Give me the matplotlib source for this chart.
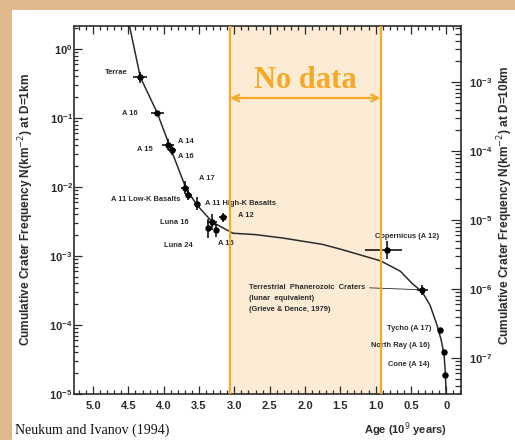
import matplotlib.pyplot as plt
import numpy as np
from matplotlib.patches import Rectangle
from matplotlib.ticker import LogLocator, MultipleLocator, NullFormatter, FixedLocator, FixedFormatter

plt.rcParams['font.family'] = ['Liberation Sans', 'DejaVu Sans']

# chronology curve: age (Ga) and log10 N(D>=1km) per km^2
curve_age = [4.49, 4.33, 4.09, 3.91, 3.68, 3.53, 3.31, 3.02, 2.70, 2.31,
             1.76, 1.50, 0.93, 0.65, 0.48, 0.34, 0.23, 0.13, 0.07, 0.03, 0.01, 0.0]
curve_logN = [0.36, -0.41, -0.93, -1.42, -2.03, -2.26, -2.51, -2.67, -2.69, -2.74,
              -2.83, -2.90, -3.07, -3.22, -3.40, -3.52, -3.71, -4.00, -4.22, -4.43, -4.72, -5.1]

# dated surfaces (age, log N, age error low/high, log N error)
pt_age = [4.33, 4.09, 3.94, 3.88, 3.70, 3.65, 3.53, 3.31, 3.37, 3.26, 3.16,
          0.84, 0.34, 0.09, 0.03, 0.01]
pt_logN = [-0.41, -0.93, -1.39, -1.46, -2.01, -2.12, -2.24, -2.51, -2.60, -2.63, -2.44,
           -2.91, -3.49, -4.07, -4.39, -4.72]
age_err_lo = [0.10, 0.09, 0.08, 0.06, 0.06, 0.05, 0.04, 0.07, 0.03, 0.03, 0.05,
              0.22, 0.08, 0, 0, 0]
age_err_hi = [0.10, 0.09, 0.08, 0.06, 0.06, 0.05, 0.04, 0.07, 0.03, 0.03, 0.05,
              0.31, 0.08, 0, 0, 0]
logN_err = [0.08, 0.03, 0.08, 0.07, 0.09, 0.07, 0.10, 0.12, 0.14, 0.10, 0.06,
            0.13, 0.07, 0, 0, 0]

labels = ['Terrae', 'A 16', 'A 14', 'A 15', 'A 16', 'A 17', 'A 11 Low-K Basalts',
          'A 11 High-K Basalts', 'Luna 16', 'Luna 24', 'A 15', 'A 12',
          'Copernicus (A 12)', 'Tycho (A 17)', 'North Ray (A 16)', 'Cone (A 14)']
label_pt = [0, 1, 2, 3, 3, 4, 5, 6, 7, 8, 9, 10, 11, 13, 14, 15]
terr_text = 'Terrestrial  Phanerozoic  Craters\n(lunar  equivalent)\n(Grieve & Dence, 1979)'

x_ticks = [5.0, 4.5, 4.0, 3.5, 3.0, 2.5, 2.0, 1.5, 1.0, 0.5, 0.0]
x_ticklabels = ['5.0', '4.5', '4.0', '3.5', '3.0', '2.5', '2.0', '1.5', '1.0', '0.5', '0']
nodata_from, nodata_to = 3.06, 0.93

# layout of the small labels: offset in pixels from their point, alignment
label_off = [(-13, 5), (-20, 0), (10, 3), (-19, 0), (6, -7), (14, 9), (-8, -4),
             (8, 0), (-24, 0), (-15, -17), (2, -13), (15, 2), (20, 13),
             (-8, 1), (-14, 6), (-16, 10)]
label_ha = ['right', 'right', 'left', 'right', 'left', 'left', 'right', 'left',
            'right', 'right', 'left', 'left', 'center', 'right', 'right', 'right']

ORANGE = '#F5A928'
PEACH = '#FCECD5'
INK = '#2b2b2b'

fig = plt.figure(figsize=(5.15, 4.4), dpi=100, facecolor='#DFB88E')
fig.add_artist(Rectangle((12 / 515, 0), 1, 430 / 440, transform=fig.transFigure,
                         facecolor='white', edgecolor='none', zorder=-5))

ax = fig.add_axes([0.1437, 0.1045, 0.7515, 0.8364])
ax.set_yscale('log')
ax.set_xlim(5.27, -0.21)
ax.set_ylim(1e-5, 10 ** 0.333)

N = 10 ** np.array(pt_logN)
e = np.array(logN_err)
yerr = [N - N * 10 ** -e, N * 10 ** e - N]
xerr = [age_err_lo, age_err_hi]

ax.axvspan(nodata_from, nodata_to, color=PEACH, zorder=0, lw=0)
ax.plot(curve_age, 10 ** np.array(curve_logN), color=INK, lw=1.1, zorder=3)
ax.errorbar(pt_age, N, xerr=xerr, yerr=yerr, fmt='o', color='black', ms=3.6,
            elinewidth=1.1, capsize=0, zorder=4)

px = 0.72  # points per pixel
for txt, i, (dx, dy), ha in zip(labels, label_pt, label_off, label_ha):
    ax.annotate(txt, (pt_age[i], N[i]), xytext=(dx * px, dy * px),
                textcoords='offset points', ha=ha, va='center',
                fontsize=5.4, color=INK, fontweight='bold', zorder=5)

ax.annotate(terr_text, (pt_age[12], N[12]), xytext=(2.79, N[12] * 10 ** 0.09),
            ha='left', va='top', fontsize=5.4, color=INK, fontweight='bold',
            linespacing=1.8, zorder=5,
            arrowprops=dict(arrowstyle='-', color=INK, lw=0.6, relpos=(1.0, 0.86),
                            shrinkA=1, shrinkB=3))

# no data band
for xv in (nodata_from, nodata_to):
    ax.axvline(xv, color=ORANGE, lw=1.6, zorder=6)
ax.annotate('', xy=(nodata_to, 10 ** -0.71), xytext=(nodata_from, 10 ** -0.71),
            arrowprops=dict(arrowstyle='<->', color=ORANGE, lw=1.6,
                            shrinkA=0, shrinkB=0, mutation_scale=12), zorder=6)
ax.text((nodata_from + nodata_to) / 2, 10 ** -0.45, 'No data', ha='center',
        va='center', fontsize=22, fontweight='bold', color=ORANGE,
        family='Liberation Serif', zorder=6)

# axes styling
ax.xaxis.set_major_locator(FixedLocator(x_ticks))
ax.xaxis.set_major_formatter(FixedFormatter(x_ticklabels))
ax.xaxis.set_minor_locator(MultipleLocator(0.1))
ax.yaxis.set_major_locator(LogLocator(base=10, numticks=10))
ax.yaxis.set_minor_locator(LogLocator(base=10, subs=np.arange(2, 10), numticks=10))
ax.yaxis.set_minor_formatter(NullFormatter())
ax.tick_params(which='both', direction='in', top=True, color=INK, width=0.9)
ax.tick_params(which='major', length=6, labelsize=8, pad=5, labelcolor=INK)
ax.tick_params(which='minor', length=3)
ax.tick_params(axis='y', which='major', pad=1)
for lab in ax.get_xticklabels() + ax.get_yticklabels():
    lab.set_fontweight('bold')
for s in ax.spines.values():
    s.set_color(INK)
    s.set_linewidth(1.2)

ax2 = ax.twinx()
ax2.set_yscale('log')
shift = 2.52
ax2.set_ylim(10 ** (-5 - shift), 10 ** (0.333 - shift))
ax2.yaxis.set_major_locator(FixedLocator([1e-3, 1e-4, 1e-5, 1e-6, 1e-7]))
ax2.yaxis.set_minor_locator(LogLocator(base=10, subs=np.arange(2, 10), numticks=12))
ax2.yaxis.set_minor_formatter(NullFormatter())
ax2.tick_params(which='both', direction='in', color=INK, width=0.9)
ax2.tick_params(which='major', length=7, labelsize=8, pad=6, labelcolor=INK)
ax2.tick_params(which='minor', length=4)
for lab in ax2.get_yticklabels():
    lab.set_fontweight('bold')
for s in ax2.spines.values():
    s.set_visible(False)

fig.text(26 / 515, 1 - 210 / 440, 'Cumulative Crater Frequency N(km$^{-2}$) at D=1km',
         rotation=90, ha='center', va='center', fontsize=8.6, fontweight='bold', color=INK)
fig.text(505 / 515, 1 - 205 / 440, 'Cumulative Crater Frequency N(km$^{-2}$) at D=10km',
         rotation=90, ha='center', va='center', fontsize=8.6, fontweight='bold', color=INK)
fig.text(405 / 515, 1 - 430 / 440, 'Age (10$^{9}$ years)', ha='center', va='center',
         fontsize=8, fontweight='bold', color=INK)
fig.text(15 / 515, 1 - 430 / 440, 'Neukum and Ivanov (1994)', ha='left', va='center',
         fontsize=10, family='Liberation Serif', color='#111111')

fig.savefig('out.png', dpi=100)
